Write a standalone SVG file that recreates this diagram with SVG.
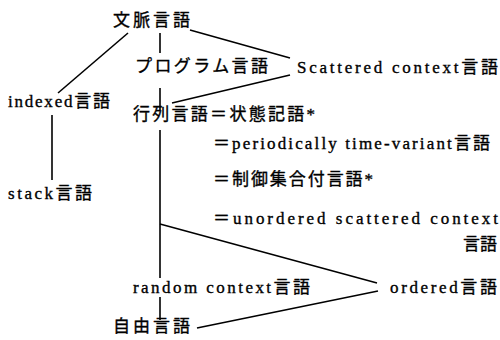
<svg xmlns="http://www.w3.org/2000/svg" width="500" height="340" viewBox="0 0 500 340">
<style>
text{font-family:"Liberation Serif","Noto Sans CJK JP",serif;font-size:17px;fill:#000;stroke:#000;stroke-width:0.35;}
.c line{stroke:#000;stroke-width:1.6;}
</style>
<rect width="500" height="340" fill="#fff"/>
<g class="c" id="connectors">
<line x1="128" y1="33" x2="58" y2="93"/>
<line x1="160" y1="33" x2="160" y2="53"/>
<line x1="190" y1="30" x2="290" y2="58"/>
<line x1="160" y1="88" x2="160" y2="110"/>
<line x1="172" y1="103" x2="290" y2="75"/>
<line x1="52" y1="115" x2="52" y2="180"/>
<line x1="160" y1="130" x2="160" y2="278"/>
<line x1="160" y1="224" x2="377" y2="283"/>
<line x1="160" y1="297" x2="160" y2="320"/>
<line x1="197" y1="328" x2="378" y2="291"/>
</g>
<g id="bunmyaku"><text x="113" y="26" textLength="77" lengthAdjust="spacing">文脈言語</text></g>
<g id="program"><text x="135" y="72" textLength="133" lengthAdjust="spacing">プログラム言語</text></g>
<g id="scattered"><text x="297" y="73" textLength="201" lengthAdjust="spacing">Scattered context言語</text></g>
<g id="indexed"><text x="8" y="107" textLength="102" lengthAdjust="spacing">indexed言語</text></g>
<g id="gyoretsu"><text x="133" y="120" textLength="182" lengthAdjust="spacing">行列言語＝状態記語*</text></g>
<g id="periodically"><text x="213" y="149" textLength="277" lengthAdjust="spacing">＝periodically time-variant言語</text></g>
<g id="stack"><text x="8" y="199" textLength="84" lengthAdjust="spacing">stack言語</text></g>
<g id="seigyo"><text x="213" y="185" textLength="160" lengthAdjust="spacing">＝制御集合付言語*</text></g>
<g id="unordered"><text x="213" y="224" textLength="285" lengthAdjust="spacing">＝unordered scattered context</text><text x="463" y="250" textLength="34" lengthAdjust="spacing">言語</text></g>
<g id="random"><text x="133" y="293" textLength="177" lengthAdjust="spacing">random context言語</text></g>
<g id="ordered"><text x="390" y="293" textLength="107" lengthAdjust="spacing">ordered言語</text></g>
<g id="jiyu"><text x="113" y="332" textLength="77" lengthAdjust="spacing">自由言語</text></g>
</svg>
